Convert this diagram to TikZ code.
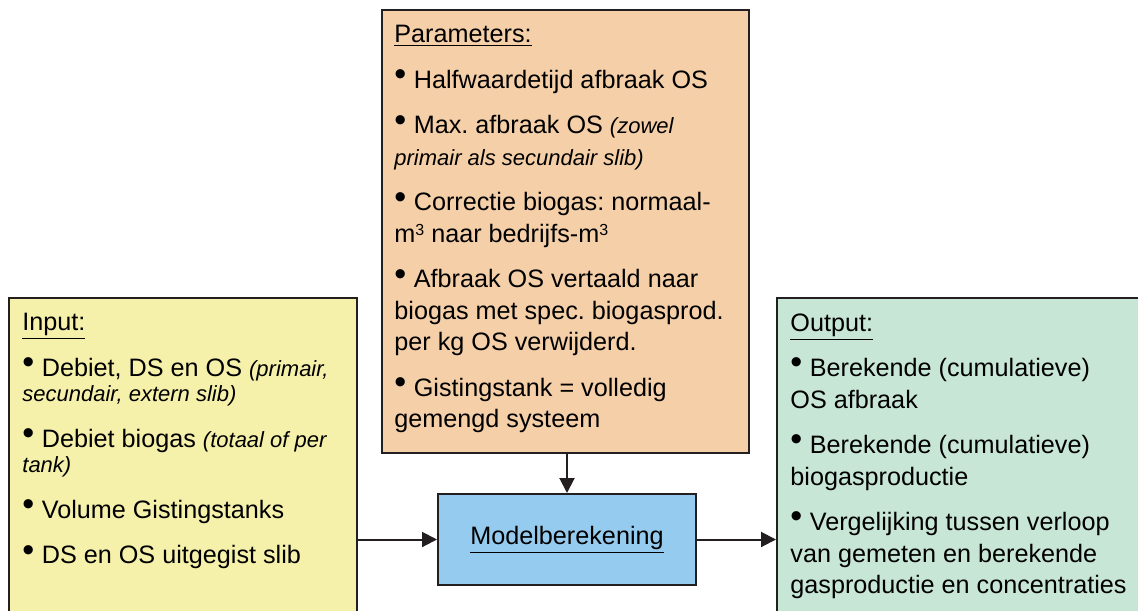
\documentclass[tikz,border=0pt]{standalone}
\usepackage{fontspec}
\setmainfont{Liberation Sans}
\usetikzlibrary{arrows.meta,positioning}

\definecolor{inputgeel}{RGB}{246,241,170}
\definecolor{paramoranje}{RGB}{245,207,168}
\definecolor{modelblauw}{RGB}{148,203,238}
\definecolor{outputgroen}{RGB}{200,230,214}
\definecolor{rand}{RGB}{35,31,32}

\newcommand{\bul}{\raisebox{.1em}{\fontsize{17}{17}\selectfont\textbullet}\hspace{.3em}}
\newcommand{\opm}[1]{{\fontsize{11}{13}\selectfont\itshape #1}}
\newcommand{\kub}{\raisebox{.25em}{\fontsize{8}{8}\selectfont 3}}

\frenchspacing

\begin{document}
\begin{tikzpicture}[x=0.5pt,y=-0.5pt,
  blok/.style={draw=rand,line width=1pt,anchor=north west,inner sep=0pt},
  tekst/.style={anchor=north west,align=left,inner sep=0pt,font=\fontsize{12.6}{15.75}\selectfont},
  pijl/.style={draw=rand,line width=1pt,-{Triangle[length=7.5pt,width=7.5pt]}}]
  \useasboundingbox (0,0) rectangle (1138,610);
  % de vier blokken
  \node[blok,fill=inputgeel,minimum width=174pt,minimum height=164pt] (input) at (8,297) {};
  \node[blok,fill=paramoranje,minimum width=183.5pt,minimum height=221.5pt] (param) at (381,9) {};
  \node[blok,fill=modelblauw,minimum width=129pt,minimum height=45.5pt,
        font=\fontsize{12.6}{15.75}\selectfont] (model) at (437,493) {\raisebox{1pt}{\underline{Modelberekening}}};
  \node[blok,fill=outputgroen,minimum width=187pt,minimum height=164pt] (output) at (776,297) {};
  % teksten
  \node[tekst] (inputtekst) at (22,313) {%
    \underline{Input:}\\[7pt]
    \bul Debiet, DS en OS \opm{(primair,}\\[-3pt]
    \opm{secundair, extern slib)}\\[7pt]
    \bul Debiet biogas \opm{(totaal of per}\\[-3pt]
    \opm{tank)}\\[7pt]
    \bul Volume Gistingstanks\\[7pt]
    \bul DS en OS uitgegist slib};
  \node[tekst] (paramtekst) at (394,25) {%
    \underline{Parameters:}\\[7pt]
    \bul Halfwaardetijd afbraak OS\\[7pt]
    \bul Max.\ afbraak OS \opm{(zowel}\\
    \opm{primair als secundair slib)}\\[7pt]
    \bul Correctie biogas:\ normaal-\\
    m\kub{} naar bedrijfs-m\kub\\[7pt]
    \bul Afbraak OS vertaald naar\\
    biogas met spec.\ biogasprod.\\
    per kg OS verwijderd.\\[7pt]
    \bul Gistingstank = volledig\\
    gemengd systeem};
  \node[tekst] (outputtekst) at (790,313) {%
    \underline{Output:}\\[7pt]
    \bul Berekende (cumulatieve)\\
    OS afbraak\\[7pt]
    \bul Berekende (cumulatieve)\\
    biogasproductie\\[7pt]
    \bul Vergelijking tussen verloop\\
    van gemeten en berekende\\
    gasproductie en concentraties};
  % pijlen
  \draw[pijl] (input.east |- model.west) -- (model.west);
  \draw[pijl] (param.south -| model.north) -- (model.north);
  \draw[pijl] (model.east) -- (output.west |- model.east);
\end{tikzpicture}
\end{document}
